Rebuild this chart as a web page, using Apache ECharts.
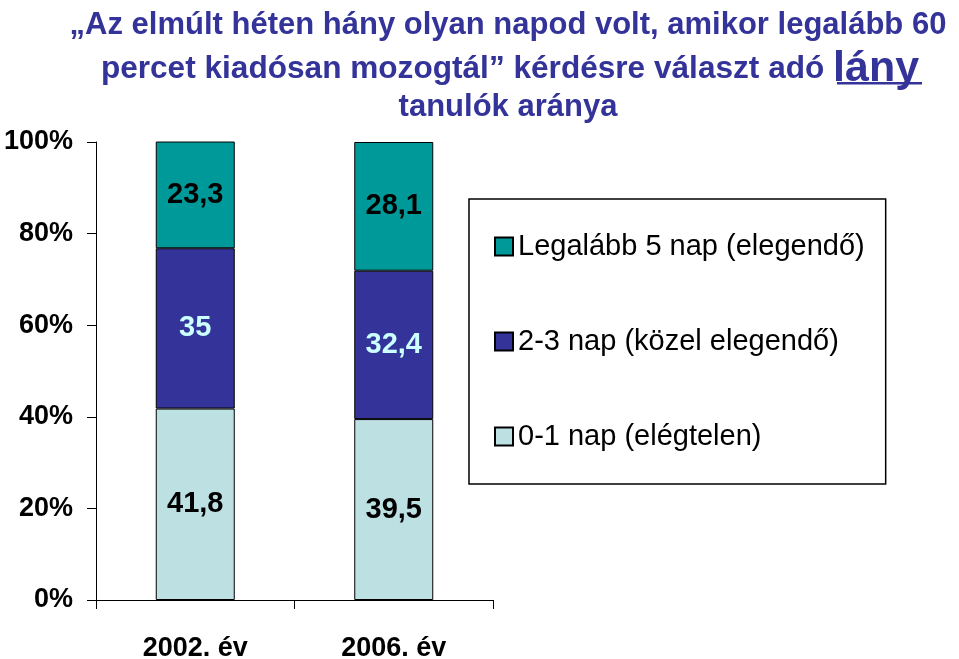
<!DOCTYPE html>
<html>
<head>
<meta charset="utf-8">
<title>Lány tanulók mozgása</title>
<script src="https://cdn.jsdelivr.net/npm/echarts@6/dist/echarts.min.js"></script>
<style>
    html, body {
        margin: 0;
        padding: 0;
        background: #fff;
    }
    #main {
        width: 959px;
        height: 659px;
    }
</style>
</head>
<body>
<div id="main"></div>
<script>
const categories = ['2002. év', '2006. év'];
const seriesNames = ['0-1 nap (elégtelen)', '2-3 nap (közel elegendő)', 'Legalább 5 nap (elegendő)'];
const lowValues = [41.8, 39.5];
const midValues = [35, 32.4];
const highValues = [23.3, 28.1];
const yTicks = [0, 20, 40, 60, 80, 100];

const font = 'Arial, "Liberation Sans", sans-serif';
const titleColor = '#333399';
const colors = ['#BDE0E3', '#333399', '#009999'];
const labelColors = ['#000', '#CCFFFF', '#000'];

// 23.3 -> "23,3"
function fmt(p) {
    return String(p.value).replace('.', ',');
}

function barSeries(name, data, index) {
    return {
        name: name,
        type: 'bar',
        stack: 'total',
        barWidth: 79,
        data: data,
        itemStyle: {
            color: colors[index],
            borderColor: '#000',
            borderWidth: 1
        },
        label: {
            show: true,
            position: 'inside',
            formatter: fmt,
            color: labelColors[index],
            fontFamily: font,
            fontWeight: 'bold',
            fontSize: 29
        }
    };
}

let myChart = echarts.init(document.getElementById('main'));
let option = {
    backgroundColor: '#fff',
    animation: false,
    title: [{
        text: '„Az elmúlt héten hány olyan napod volt, amikor legalább 60',
        left: 508,
        top: 8,
        padding: 0,
        textAlign: 'center',
        textStyle: { color: titleColor, fontFamily: font, fontWeight: 'bold', fontSize: 31, lineHeight: 34 }
    }, {
        text: 'percet kiadósan mozogtál” kérdésre választ adó {u|lány}',
        left: 510,
        top: 44,
        padding: 0,
        textAlign: 'center',
        textStyle: {
            color: titleColor, fontFamily: font, fontWeight: 'bold', fontSize: 31.6, lineHeight: 50,
            rich: {
                u: { color: titleColor, fontFamily: font, fontWeight: 'bold', fontSize: 43, lineHeight: 50 }
            }
        }
    }, {
        text: 'tanulók aránya',
        left: 508,
        top: 90,
        padding: 0,
        textAlign: 'center',
        textStyle: { color: titleColor, fontFamily: font, fontWeight: 'bold', fontSize: 31, lineHeight: 34 }
    }],
    // underline of "lány"
    graphic: [{
        type: 'rect',
        left: 837,
        top: 82,
        shape: { width: 85, height: 2.5 },
        style: { fill: titleColor }
    }],
    legend: {
        orient: 'vertical',
        left: 469,
        top: 199,
        data: [seriesNames[2], seriesNames[1], seriesNames[0]],
        icon: 'rect',
        itemWidth: 18,
        itemHeight: 18,
        itemGap: 66,
        padding: [33, 21, 33, 25],
        borderColor: '#000',
        borderWidth: 1.5,
        selectedMode: false,
        textStyle: { color: '#000', fontFamily: font, fontSize: 29 }
    },
    grid: {
        left: 96,
        right: 466,
        top: 142,
        bottom: 59,
        containLabel: false,
        outerBoundsMode: 'none'
    },
    xAxis: {
        type: 'category',
        data: categories,
        axisLine: { lineStyle: { color: '#000', width: 1 } },
        axisTick: { show: true, length: 9, lineStyle: { color: '#000' } },
        axisLabel: { color: '#000', fontFamily: font, fontWeight: 'bold', fontSize: 27, margin: 35 }
    },
    yAxis: {
        type: 'value',
        min: yTicks[0],
        max: yTicks[yTicks.length - 1],
        interval: yTicks[1] - yTicks[0],
        splitLine: { show: false },
        axisLine: { show: true, lineStyle: { color: '#000', width: 1 } },
        axisTick: { show: true, length: 9, lineStyle: { color: '#000' } },
        axisLabel: { color: '#000', fontFamily: font, fontWeight: 'bold', fontSize: 27, margin: 23, formatter: '{value}%' }
    },
    series: [
        barSeries(seriesNames[0], lowValues, 0),
        barSeries(seriesNames[1], midValues, 1),
        barSeries(seriesNames[2], highValues, 2)
    ]
};
myChart.setOption(option);
</script>
</body>
</html>
